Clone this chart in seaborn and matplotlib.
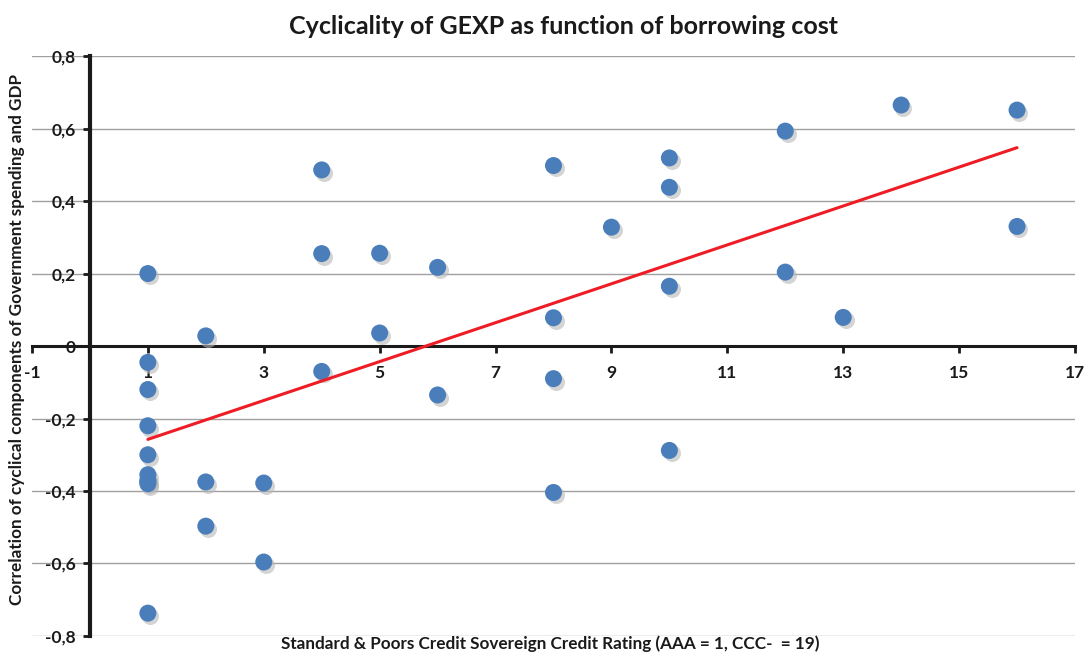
import numpy as np
import pandas as pd
import seaborn as sns
import matplotlib.pyplot as plt
from matplotlib.ticker import FuncFormatter

# =============================
# Data
# =============================
rating = [1, 1, 1, 1, 1, 1, 1, 1, 1, 1,
          2, 2, 2,
          3, 3,
          4, 4, 4,
          5, 5,
          6, 6,
          8, 8, 8, 8,
          9,
          10, 10, 10, 10,
          12, 12,
          13,
          14,
          16, 16]
correlation = [0.20, -0.045, -0.12, -0.22, -0.30, -0.355, -0.37, -0.375, -0.38, -0.737,
               0.028, -0.375, -0.497,
               -0.378, -0.596,
               0.486, 0.255, -0.07,
               0.256, 0.036,
               0.217, -0.135,
               0.498, 0.078, -0.09, -0.404,
               0.328,
               0.519, 0.438, 0.165, -0.288,
               0.593, 0.204,
               0.079,
               0.665,
               0.651, 0.330]

x_ticks = [-1, 1, 3, 5, 7, 9, 11, 13, 15, 17]
y_ticks = [-0.8, -0.6, -0.4, -0.2, 0, 0.2, 0.4, 0.6, 0.8]

df = pd.DataFrame({"rating": rating, "corr": correlation})

# =============================
# Plot
# =============================
sns.set_theme(style="white")
plt.rcParams['font.family'] = ['Lato', 'DejaVu Sans']

fig = plt.figure(figsize=(10.84, 6.6), dpi=100)
ax = fig.add_axes([0.0295, 0.0364, 0.9622, 0.8786])

for y in y_ticks:
    ax.axhline(y, color="#a0a0a0", lw=1.0, zorder=0)

# soft drop shadow under markers
ax.scatter(np.array(rating) + 0.04, np.array(correlation) - 0.008,
           s=150, color="#b8b8b8", alpha=0.6, linewidths=0, zorder=2)
sns.scatterplot(data=df, x="rating", y="corr", s=150, color="#4a7ebb",
                edgecolor="none", ax=ax, zorder=3)
sns.regplot(data=df, x="rating", y="corr", ci=None, scatter=False,
            line_kws={"color": "#ee1c25", "lw": 2.2, "zorder": 4}, ax=ax)

ax.set_xlim(-1, 17)
ax.set_ylim(-0.8, 0.8)
ax.set_xticks(x_ticks)
ax.set_yticks(y_ticks)

fmt = FuncFormatter(lambda v, p: ("%g" % round(v, 1)).replace(".", ","))
ax.yaxis.set_major_formatter(fmt)
ax.xaxis.set_major_formatter(FuncFormatter(lambda v, p: "%d" % v))

# Excel style: axes cross at the origin
for s in ["top", "right"]:
    ax.spines[s].set_visible(False)
ax.spines["bottom"].set_position(("data", 0))
ax.spines["left"].set_position(("data", 0))
ax.spines["bottom"].set_linewidth(2.2)
ax.spines["left"].set_linewidth(3)
ax.spines["bottom"].set_color("#1a1a1a")
ax.spines["left"].set_color("#1a1a1a")
ax.spines["bottom"].set_zorder(1)
ax.spines["left"].set_zorder(1)

ax.tick_params(axis="x", direction="out", length=5, width=2, color="#1a1a1a",
               labelsize=12.5, pad=9, bottom=True)
ax.tick_params(axis="y", direction="out", length=5, width=2, color="#1a1a1a",
               labelsize=12.5, pad=5, left=True)
for lbl in ax.get_xticklabels() + ax.get_yticklabels():
    lbl.set_fontweight("bold")
    lbl.set_color("#1a1a1a")

ax.set_xlabel("")
ax.set_ylabel("")
fig.text(0.508, 0.012, "Standard & Poors Credit Sovereign Credit Rating (AAA = 1, CCC-  = 19)",
         ha="center", va="bottom", fontsize=12.3, fontweight="bold", color="#1a1a1a")
fig.text(0.016, 0.485, "Correlation of cyclical components of Government spending and GDP",
         rotation=90, ha="center", va="center", fontsize=12.3, fontweight="bold", color="#1a1a1a")
fig.text(0.52, 0.96, "Cyclicality of GEXP as function of borrowing cost",
         ha="center", va="center", fontsize=18, fontweight="bold", color="#1a1a1a")

fig.savefig("out.png", dpi=100)
